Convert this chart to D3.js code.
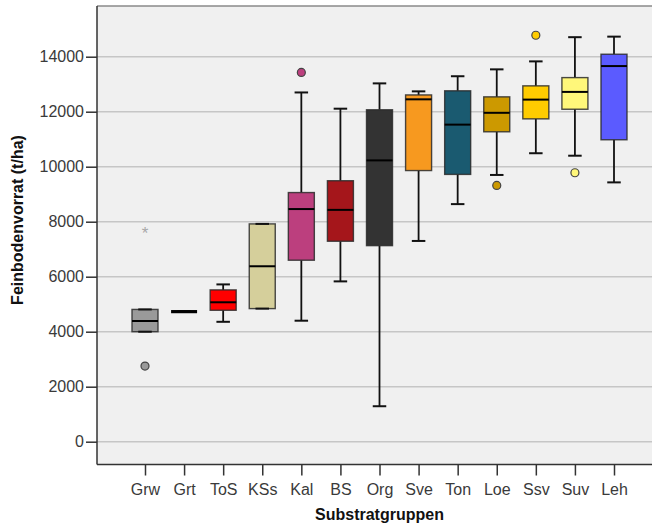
<!DOCTYPE html>
<html>
<head>
<meta charset="utf-8">
<script src="https://cdn.jsdelivr.net/npm/d3@7"></script>
<style>
  html, body { margin: 0; padding: 0; background: #ffffff; }
  svg { display: block; font-family: "Liberation Sans", Arial, sans-serif; }
</style>
</head>
<body>
<svg id="chart" width="652" height="527"></svg>
<script>
// ---- data ----
const categories  = ["Grw","Grt","ToS","KSs","Kal","BS","Org","Sve","Ton","Loe","Ssv","Suv","Leh"];
const whiskerLow  = [4000, 4730, 4360, 4840, 4400, 5830, 1290, 7300, 8640, 9700, 10490, 10400, 9430];
const q1          = [4000, 4730, 4780, 4840, 6600, 7290, 7130, 9860, 9720, 11270, 11740, 12090, 10980];
const medians     = [4390, 4730, 5070, 6380, 8460, 8430, 10230, 12450, 11530, 11960, 12440, 12720, 13660];
const q3          = [4810, 4730, 5520, 7920, 9060, 9490, 12070, 12610, 12760, 12540, 12940, 13240, 14090];
const whiskerHigh = [4810, 4730, 5720, 7920, 12700, 12110, 13030, 12740, 13290, 13540, 13830, 14710, 14730];
const boxColors   = ["#9a9a9a","#000000","#ff0000","#d5cf9b","#bc3f7e","#a5161b","#333333","#f7991f","#1a5a70","#cc9900","#ffcc00","#fff77a","#5b5bff"];
const outlierCats = ["Grw","Kal","Loe","Ssv","Suv"];
const outlierVals = [2750, 13430, 9320, 14780, 9780];
const extremeCats = ["Grw"];
const extremeVals = [7670];
const yTicks = [0, 2000, 4000, 6000, 8000, 10000, 12000, 14000];
const xTitle = "Substratgruppen";
const yTitle = "Feinbodenvorrat (t/ha)";

// ---- layout ----
const plot = { left: 97, right: 662, top: 6, bottom: 464.5 };
const svg = d3.select("#chart");

const x = d3.scalePoint().domain(categories).range([145, 614]);
const y = d3.scaleLinear().domain([-829, 15844]).range([plot.bottom, plot.top]);
const boxW = 26, capW = 13.5;
const colorOf = d3.scaleOrdinal().domain(categories).range(boxColors);

// background
svg.append("rect")
  .attr("x", plot.left).attr("y", plot.top)
  .attr("width", plot.right - plot.left).attr("height", plot.bottom - plot.top)
  .attr("fill", "#f0f0f0");

// gridlines
svg.append("g").selectAll("line").data(yTicks).join("line")
  .attr("x1", plot.left).attr("x2", plot.right)
  .attr("y1", d => y(d)).attr("y2", d => y(d))
  .attr("stroke", "#c6c6c6").attr("stroke-width", 1.6);

// top frame line
svg.append("line")
  .attr("x1", plot.left).attr("x2", plot.right)
  .attr("y1", plot.top).attr("y2", plot.top)
  .attr("stroke", "#8a8a8a").attr("stroke-width", 1.5);

// axes
const yAxis = svg.append("g")
  .attr("transform", `translate(${plot.left},0)`)
  .call(d3.axisLeft(y).tickValues(yTicks).tickSize(11).tickPadding(2).tickSizeOuter(0).tickFormat(d3.format("d")));
yAxis.select(".domain").attr("stroke", "#333").attr("stroke-width", 1.5)
  .attr("d", `M0,${plot.top}V${plot.bottom}`);
yAxis.selectAll(".tick line").attr("stroke", "#333").attr("stroke-width", 1.5);
yAxis.selectAll(".tick text").attr("fill", "#3a3a3a").style("font-size", "16px").attr("font-family", null);

const xAxis = svg.append("g")
  .attr("transform", `translate(0,${plot.bottom})`)
  .call(d3.axisBottom(x).tickSize(11).tickPadding(8).tickSizeOuter(0));
xAxis.select(".domain").attr("stroke", "#333").attr("stroke-width", 1.5)
  .attr("d", `M${plot.left},0H${plot.right}`);
xAxis.selectAll(".tick line").attr("stroke", "#333").attr("stroke-width", 1.5);
xAxis.selectAll(".tick text").attr("fill", "#3a3a3a").style("font-size", "16px").attr("font-family", null);

// titles
svg.append("text")
  .attr("x", (plot.left + plot.right) / 2).attr("y", 520)
  .attr("text-anchor", "middle").attr("font-weight", "bold").attr("font-size", 16)
  .attr("fill", "#111").text(xTitle);
svg.append("text")
  .attr("transform", "translate(23,220) rotate(-90)")
  .attr("text-anchor", "middle").attr("font-weight", "bold").attr("font-size", 16)
  .attr("fill", "#111").text(yTitle);

// boxes
const rows = categories.map((c, i) => ({
  c, lo: whiskerLow[i], q1: q1[i], med: medians[i], q3: q3[i], hi: whiskerHigh[i], color: boxColors[i]
}));

const g = svg.append("g");
const box = g.selectAll("g.box").data(rows).join("g").attr("class", "box");

// whiskers
box.append("line")
  .attr("x1", d => x(d.c)).attr("x2", d => x(d.c))
  .attr("y1", d => y(d.hi)).attr("y2", d => y(d.q3))
  .attr("stroke", "#111").attr("stroke-width", 1.8);
box.append("line")
  .attr("x1", d => x(d.c)).attr("x2", d => x(d.c))
  .attr("y1", d => y(d.q1)).attr("y2", d => y(d.lo))
  .attr("stroke", "#111").attr("stroke-width", 1.8);

// box body
box.append("rect")
  .attr("x", d => x(d.c) - boxW / 2).attr("width", boxW)
  .attr("y", d => y(d.q3)).attr("height", d => y(d.q1) - y(d.q3))
  .attr("fill", d => d.color)
  .attr("stroke", "#2a2a2a").attr("stroke-opacity", 0.85).attr("stroke-width", 1.4);

// caps
box.append("line")
  .attr("x1", d => x(d.c) - capW / 2).attr("x2", d => x(d.c) + capW / 2)
  .attr("y1", d => y(d.hi)).attr("y2", d => y(d.hi))
  .attr("stroke", "#111").attr("stroke-width", 2);
box.append("line")
  .attr("x1", d => x(d.c) - capW / 2).attr("x2", d => x(d.c) + capW / 2)
  .attr("y1", d => y(d.lo)).attr("y2", d => y(d.lo))
  .attr("stroke", "#111").attr("stroke-width", 2);

// median
box.append("line")
  .attr("x1", d => x(d.c) - boxW / 2).attr("x2", d => x(d.c) + boxW / 2)
  .attr("y1", d => y(d.med)).attr("y2", d => y(d.med))
  .attr("stroke", "#000").attr("stroke-width", d => d.q1 === d.q3 ? 3.2 : 2);

// outliers (circles)
g.selectAll("circle.out").data(outlierCats.map((c, i) => ({ c, v: outlierVals[i] })))
  .join("circle").attr("class", "out")
  .attr("cx", d => x(d.c)).attr("cy", d => y(d.v)).attr("r", 4)
  .attr("fill", d => colorOf(d.c))
  .attr("stroke", "#444").attr("stroke-width", 1.2);

// extremes (stars)
g.selectAll("text.ext").data(extremeCats.map((c, i) => ({ c, v: extremeVals[i] })))
  .join("text").attr("class", "ext")
  .attr("x", d => x(d.c)).attr("y", d => y(d.v) + 8)
  .attr("text-anchor", "middle").attr("font-size", 17)
  .attr("fill", "#a8a8a8").text("*");
</script>
</body>
</html>
